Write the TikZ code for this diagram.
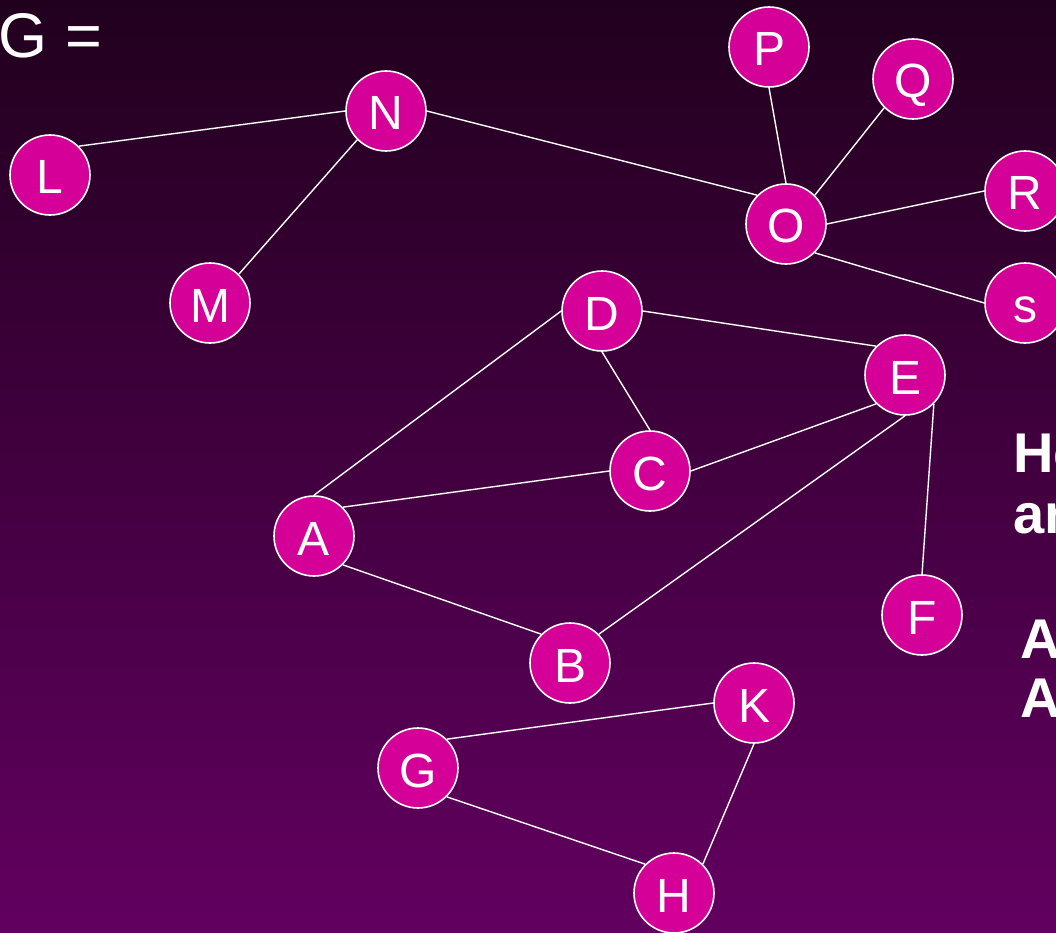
\documentclass[tikz,border=0pt]{standalone}
\usepackage{fontspec}
\setmainfont{Liberation Sans}
\definecolor{bgtop}{RGB}{33,0,30}
\definecolor{bgbot}{RGB}{98,0,96}
\definecolor{nodefill}{RGB}{212,0,152}
\tikzset{
  vert/.style={circle, fill=nodefill, draw=white, line width=1.6pt, minimum size=80pt, inner sep=0pt, text=white, font=\fontsize{48}{48}\selectfont, text height=38pt, text depth=0pt},
  edge/.style={draw=white, line width=1.4pt},
  bigtext/.style={text=white, font=\bfseries\fontsize{56}{62}\selectfont, anchor=base west, inner sep=0pt}
}
\begin{document}
\begin{tikzpicture}[x=1pt, y=-1pt]
\useasboundingbox (0,0) rectangle (1056,933);
\clip (0,0) rectangle (1056,933);
\shade[top color=bgtop, bottom color=bgbot] (0,0) rectangle (1056,933);
\node[text=white, font=\fontsize{63}{63}\selectfont, anchor=base west, inner sep=0pt] (title) at (-1.5,58) {G =};
\node[vert] (P) at (769,47) {P};
\node[vert] (Q) at (913,79) {Q};
\node[vert] (N) at (386,111) {N};
\node[vert] (L) at (50,175) {L};
\node[vert] (R) at (1025,191) {R};
\node[vert] (O) at (786,224) {O};
\node[vert] (M) at (210,303) {M};
\node[vert] (D) at (602,311) {D};
\node[vert] (S) at (1025,303) {s};
\node[vert] (E) at (905,375) {E};
\node[vert] (C) at (650,471) {C};
\node[vert] (A) at (314,536) {A};
\node[vert] (F) at (922,615) {F};
\node[vert] (B) at (570,663) {B};
\node[vert] (K) at (754,703) {K};
\node[vert] (G) at (418,768) {G};
\node[vert] (H) at (674,893) {H};
\path[edge] (L.north east) -- (N.west);
\path[edge] (N.south west) -- (M.north east);
\path[edge] (N.east) -- (O.north west);
\path[edge] (O.north) -- (P.south);
\path[edge] (O.north east) -- (Q.south west);
\path[edge] (O.east) -- (R.west);
\path[edge] (O.south east) -- (S.west);
\path[edge] (D.east) -- (E.north west);
\path[edge] (D.south) -- (C.north);
\path[edge] (D.west) -- (A.north);
\path[edge] (A.north east) -- (C.west);
\path[edge] (C.east) -- (E.south west);
\path[edge] (A.south east) -- (B.north west);
\path[edge] (B.north east) -- (E.south);
\path[edge] (E.south east) -- (F.north);
\path[edge] (G.north east) -- (K.west);
\path[edge] (G.south east) -- (H.north west);
\path[edge] (H.north east) -- (K.south);
\node[bigtext] (t1) at (1013,472) {He};
\node[bigtext] (t2) at (1013,533) {an};
\node[bigtext] (t3) at (1020,658) {A};
\node[bigtext] (t4) at (1020,717) {A};
\end{tikzpicture}
\end{document}
